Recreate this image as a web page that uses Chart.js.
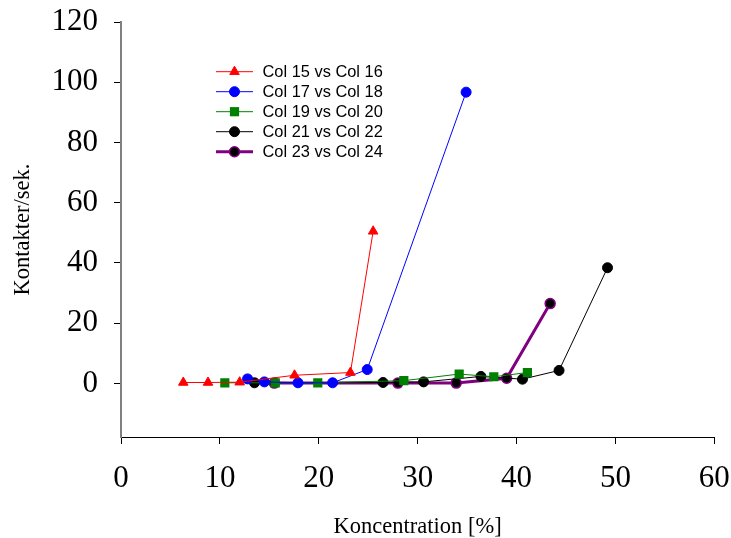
<!DOCTYPE html>
<html>
<head>
<meta charset="utf-8">
<style>
  html, body { margin: 0; padding: 0; background: #fff; }
  #wrap { width: 731px; height: 538px; }
</style>
<script src="https://cdn.jsdelivr.net/npm/chart.js@4/dist/chart.umd.min.js"></script>
</head>
<body>
<div id="wrap"><canvas id="c" width="731" height="538"></canvas></div>
<script>
// ---- data ----
const s1x = [6.3, 8.8, 12.0, 17.55, 23.2, 25.5];
const s1y = [0.3, 0.3, 0.4, 2.7, 3.6, 50.5];
const s2x = [12.8, 14.5, 17.9, 21.4, 24.9, 34.9];
const s2y = [1.5, 0.5, 0.2, 0.2, 4.6, 96.7];
const s3x = [10.5, 15.6, 19.9, 28.6, 34.2, 37.7, 41.1];
const s3y = [0.2, 0.2, 0.2, 0.9, 3.1, 2.2, 3.6];
const s4x = [13.5, 26.5, 30.6, 36.4, 40.6, 44.3, 49.2];
const s4y = [0.2, 0.3, 0.5, 2.3, 1.4, 4.3, 38.4];
const s5x = [15.5, 28.0, 33.9, 39.0, 43.4];
const s5y = [0.1, 0.1, 0.1, 1.7, 26.5];
const seriesNames = ['Col 15 vs Col 16', 'Col 17 vs Col 18', 'Col 19 vs Col 20', 'Col 21 vs Col 22', 'Col 23 vs Col 24'];
const yTickValues = [0, 20, 40, 60, 80, 100, 120];
const xTickValues = [0, 10, 20, 30, 40, 50, 60];

function pts(xs, ys) { return xs.map((x, i) => ({ x: x, y: ys[i] })); }

const datasets = [
  { label: seriesNames[0], data: pts(s1x, s1y), borderColor: '#ff0000', backgroundColor: '#ff0000',
    borderWidth: 1, pointStyle: 'triangle', pointRadius: 5.5, pointBorderWidth: 1,
    pointBackgroundColor: '#ff0000', pointBorderColor: '#ff0000' },
  { label: seriesNames[1], data: pts(s2x, s2y), borderColor: '#0000ff', backgroundColor: '#0000ff',
    borderWidth: 1, pointStyle: 'circle', pointRadius: 5, pointBorderWidth: 1,
    pointBackgroundColor: '#0000ff', pointBorderColor: '#0000ff' },
  { label: seriesNames[2], data: pts(s3x, s3y), borderColor: '#008000', backgroundColor: '#008000',
    borderWidth: 1, pointStyle: 'rect', pointRadius: 6.5, pointBorderWidth: 0,
    pointBackgroundColor: '#008000', pointBorderColor: '#008000' },
  { label: seriesNames[3], data: pts(s4x, s4y), borderColor: '#000000', backgroundColor: '#000000',
    borderWidth: 1, pointStyle: 'circle', pointRadius: 5, pointBorderWidth: 1,
    pointBackgroundColor: '#000000', pointBorderColor: '#000000' },
  { label: seriesNames[4], data: pts(s5x, s5y), borderColor: '#800080', backgroundColor: '#000000',
    borderWidth: 3, pointStyle: 'circle', pointRadius: 5, pointBorderWidth: 1.5,
    pointBackgroundColor: '#000000', pointBorderColor: '#800080' }
];

const legendPlugin = {
  id: 'insideLegend',
  afterDraw(chart) {
    const ctx = chart.ctx;
    const x0 = 216, x1 = 253, xm = 234.5, xt = 262.5, y0 = 71.7, dy = 20;
    ctx.save();
    chart.data.datasets.forEach((ds, i) => {
      const y = y0 + i * dy;
      ctx.beginPath();
      ctx.strokeStyle = ds.borderColor;
      ctx.lineWidth = ds.borderWidth;
      ctx.moveTo(x0, y); ctx.lineTo(x1, y);
      ctx.stroke();
      ctx.fillStyle = ds.pointBackgroundColor;
      ctx.strokeStyle = ds.pointBorderColor;
      ctx.lineWidth = ds.pointBorderWidth;
      Chart.helpers.drawPoint(ctx, { pointStyle: ds.pointStyle, radius: ds.pointRadius,
        borderWidth: ds.pointBorderWidth, rotation: 0 }, xm, y);
      ctx.fillStyle = '#000';
      ctx.font = '16.4px "Liberation Sans", Arial, sans-serif';
      ctx.textBaseline = 'middle';
      ctx.textAlign = 'left';
      ctx.fillText(ds.label, xt, y + 0.5);
    });
    ctx.restore();
  }
};

const serif = '"Liberation Serif", "Times New Roman", serif';

new Chart(document.getElementById('c'), {
  type: 'scatter',
  data: { datasets: datasets },
  options: {
    responsive: false,
    animation: false,
    showLine: true,
    layout: { padding: { left: 0, top: 22, right: 16.7, bottom: 0 } },
    plugins: { legend: { display: false }, tooltip: { enabled: false } },
    scales: {
      x: {
        type: 'linear', min: 0, max: 60,
        afterBuildTicks(scale) { scale.ticks = xTickValues.map(v => ({ value: v })); },
        afterFit(scale) { scale.height = 101; scale.paddingLeft = 0; scale.paddingRight = 0; },
        border: { display: true, color: '#000', width: 1 },
        grid: { drawOnChartArea: false, drawTicks: true, tickLength: 7, color: '#000', tickWidth: 1 },
        ticks: { color: '#000', padding: 16, maxRotation: 0, font: { family: serif, size: 31 } },
        title: { display: true, text: 'Koncentration [%]', color: '#000',
          font: { family: serif, size: 22.5 }, padding: { top: 0, bottom: -3 } }
      },
      y: {
        type: 'linear', min: -17.8, max: 120,
        afterBuildTicks(scale) { scale.ticks = yTickValues.map(v => ({ value: v })); },
        afterFit(scale) { scale.width = 121; scale.paddingTop = 0; scale.paddingBottom = 0; },
        border: { display: true, color: '#808080', width: 2 },
        grid: { drawOnChartArea: false, drawTicks: true, tickLength: 7, color: '#000', tickWidth: 1 },
        ticks: { color: '#000', padding: 16, font: { family: serif, size: 31 } },
        title: { display: true, text: 'Kontakter/sek.', color: '#000',
          font: { family: serif, size: 22.5 }, padding: { top: 10, bottom: 0 } }
      }
    }
  },
  plugins: [legendPlugin]
});
</script>
</body>
</html>
